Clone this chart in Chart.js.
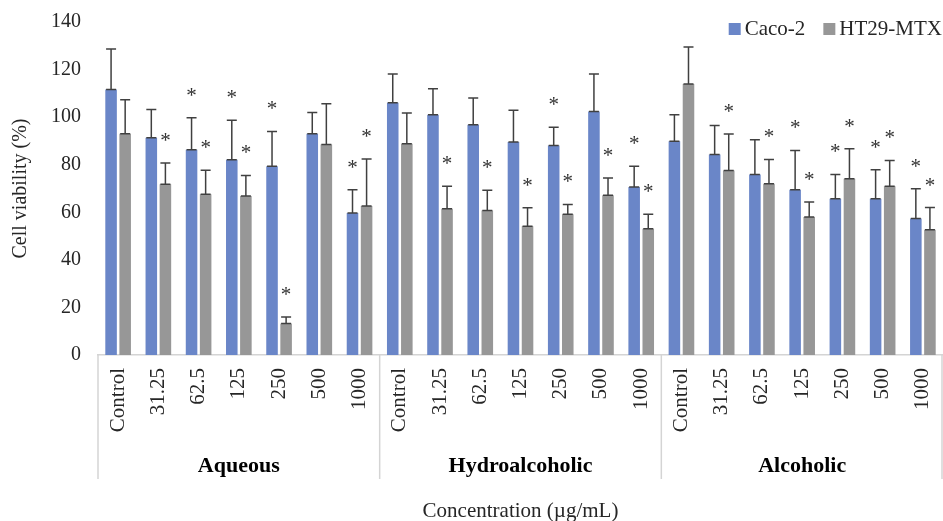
<!DOCTYPE html>
<html lang="en">
<head>
<meta charset="UTF-8">
<title>Cell viability</title>
<script src="https://cdn.jsdelivr.net/npm/chart.js@4/dist/chart.umd.min.js"></script>
<style>
  * { margin:0; padding:0; box-sizing:border-box; }
  body { background:#fff; }
  #wrap { width:943px; height:521px; position:relative; }
</style>
</head>
<body>
<div id="wrap"><canvas id="chart"></canvas></div>
<script>
// extract groups and concentrations (x axis)
const groups = ['Aqueous', 'Hydroalcoholic', 'Alcoholic'];
const concentrations = ['Control', '31.25', '62.5', '125', '250', '500', '1000'];
const categories = groups.flatMap(() => concentrations);

// mean viability (%), in group order
const caco2 = [111.6, 91.3, 86.3, 82.1, 79.4, 93.0, 59.7,
               106.0, 101.0, 96.8, 89.6, 88.1, 102.4, 70.6,
               89.9, 84.3, 75.9, 69.5, 65.7, 65.7, 57.4];
const ht29 = [93.0, 71.8, 67.6, 66.8, 13.2, 88.5, 62.6,
              88.8, 61.5, 60.8, 54.1, 59.2, 67.2, 53.1,
              113.9, 77.6, 72.0, 58.0, 74.1, 70.9, 52.7];

// upper error (SD)
const caco2Err = [17.1, 11.9, 13.4, 16.6, 14.6, 9.0, 9.8,
                  12.1, 10.9, 11.3, 13.3, 7.6, 15.7, 8.8,
                  11.1, 12.2, 14.6, 16.5, 10.2, 12.2, 12.5];
const ht29Err = [14.3, 8.9, 10.1, 8.7, 2.8, 17.1, 19.8,
                 12.9, 9.4, 8.5, 7.8, 4.1, 7.2, 6.1,
                 15.6, 15.3, 10.2, 6.3, 12.6, 10.9, 9.3];

// significance marks (*)
const caco2Sig = [0,0,1,1,1,0,1, 0,0,0,0,1,0,1, 0,0,0,1,1,1,1];
const ht29Sig  = [0,1,1,1,1,0,1, 0,1,1,1,1,1,1, 0,1,1,1,1,1,1];

const yTicks = [0, 20, 40, 60, 80, 100, 120, 140];

const SERIF = '"Liberation Serif", "Times New Roman", serif';
const TEXT = '#262626';

// error bars + asterisks on top of every bar
const errorBars = {
  id: 'errorBars',
  afterDatasetsDraw(chart) {
    const ctx = chart.ctx;
    const y = chart.scales.y;
    ctx.save();
    chart.data.datasets.forEach((ds, i) => {
      chart.getDatasetMeta(i).data.forEach((bar, j) => {
        const top = y.getPixelForValue(ds.data[j] + ds.errors[j]);
        ctx.strokeStyle = '#404040';
        ctx.lineWidth = 1.5;
        ctx.beginPath();
        ctx.moveTo(bar.x, bar.y);
        ctx.lineTo(bar.x, top);
        ctx.moveTo(bar.x - 5, top);
        ctx.lineTo(bar.x + 5, top);
        ctx.moveTo(bar.x - 5, bar.y);
        ctx.lineTo(bar.x + 5, bar.y);
        ctx.stroke();
        if (ds.sig[j]) {
          ctx.fillStyle = '#333';
          ctx.font = '21px ' + SERIF;
          ctx.textAlign = 'center';
          ctx.textBaseline = 'alphabetic';
          ctx.fillText('*', bar.x, top - 16);
        }
      });
    });
    ctx.restore();
  }
};

// group separators + group names under the tick labels, plus legend
const groupAxis = {
  id: 'groupAxis',
  afterDraw(chart) {
    const ctx = chart.ctx;
    const x = chart.scales.x;
    const n = concentrations.length;
    ctx.save();
    ctx.strokeStyle = '#d4d4d4';
    ctx.lineWidth = 1.5;
    for (let g = 0; g <= groups.length; g++) {
      const px = Math.min(x.getPixelForValue(g * n - 0.5), chart.width - 1);
      ctx.beginPath();
      ctx.moveTo(px, x.top);
      ctx.lineTo(px, x.top + 124);
      ctx.stroke();
    }
    ctx.fillStyle = '#000';
    ctx.font = 'bold 22px ' + SERIF;
    ctx.textAlign = 'center';
    ctx.textBaseline = 'middle';
    groups.forEach((name, g) => {
      const a = x.getPixelForValue(g * n - 0.5);
      const b = x.getPixelForValue(g * n + n - 0.5);
      ctx.fillText(name, (a + b) / 2, x.top + 111);
    });

    // legend, top right
    ctx.font = '21px ' + SERIF;
    ctx.textBaseline = 'alphabetic';
    ctx.textAlign = 'left';
    let right = chart.width - 1;
    const items = chart.data.datasets.slice().reverse();
    items.forEach(ds => {
      const w = ctx.measureText(ds.label).width;
      const tx = right - w;
      ctx.fillStyle = TEXT;
      ctx.fillText(ds.label, tx, 35);
      ctx.fillStyle = ds.backgroundColor;
      ctx.fillRect(tx - 16, 23, 12, 12);
      right = tx - 16 - 18;
    });
    ctx.restore();
  }
};

new Chart(document.getElementById('chart'), {
  type: 'bar',
  data: {
    labels: categories,
    datasets: [
      { label: 'Caco-2', data: caco2, errors: caco2Err, sig: caco2Sig,
        backgroundColor: '#6a86c8', borderWidth: 0 },
      { label: 'HT29-MTX', data: ht29, errors: ht29Err, sig: ht29Sig,
        backgroundColor: '#979797', borderWidth: 0 }
    ]
  },
  options: {
    responsive: true,
    maintainAspectRatio: false,
    animation: false,
    categoryPercentage: 0.7,
    barPercentage: 0.82,
    layout: { padding: { top: 22, right: 0, bottom: 0, left: 0 } },
    plugins: {
      legend: { display: false },
      tooltip: { enabled: false }
    },
    scales: {
      x: {
        grid: { display: false, drawTicks: false },
        border: { display: true, color: '#d4d4d4', width: 1.5 },
        ticks: {
          autoSkip: false, minRotation: 90, maxRotation: 90, padding: 13,
          color: TEXT, font: { family: SERIF, size: 21 }
        },
        title: {
          display: true, text: 'Concentration (µg/mL)', color: TEXT,
          font: { family: SERIF, size: 21 }, padding: { top: 0, bottom: -3 }
        },
        afterFit(s) { s.height = 166; s.paddingRight = 0; s.paddingLeft = 0; }
      },
      y: {
        min: 0, max: 140,
        afterBuildTicks(s) { s.ticks = yTicks.map(v => ({ value: v })); },
        grid: { display: false, drawTicks: false },
        border: { display: false },
        ticks: { padding: 17, color: TEXT, font: { family: SERIF, size: 20 } },
        title: {
          display: true, text: 'Cell viability (%)', color: TEXT,
          font: { family: SERIF, size: 20 }, padding: { top: 9, bottom: 0 }
        },
        afterFit(s) { s.width = 98; s.paddingTop = 0; s.paddingBottom = 0; }
      }
    }
  },
  plugins: [errorBars, groupAxis]
});
</script>
</body>
</html>
